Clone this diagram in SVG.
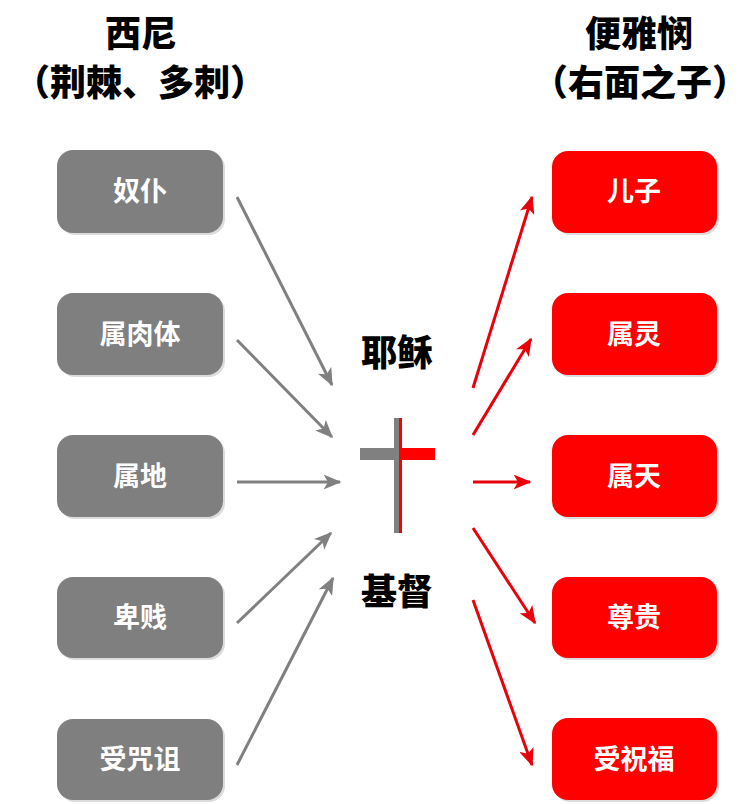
<svg xmlns="http://www.w3.org/2000/svg" width="755" height="804" viewBox="0 0 755 804">
<style>
.hd{font-family:"Noto Sans CJK SC","Noto Sans CJK TC",sans-serif;font-weight:900;font-size:36px;fill:#000;text-anchor:middle}
.nm{font-family:"Noto Sans CJK SC","Noto Sans CJK TC",sans-serif;font-weight:900;font-size:36px;fill:#000;text-anchor:middle}
.bt{font-family:"Noto Sans CJK SC",sans-serif;font-weight:700;font-size:27px;fill:#fff;text-anchor:middle}
.g{fill:#7f7f7f}
.r{fill:#ff0000}
.sh{fill:#dcdcdc}
.ga{stroke:#808080;stroke-width:3;fill:none;marker-end:url(#ag)}
.ra{stroke:#e8000b;stroke-width:3;fill:none;marker-end:url(#ar)}
</style>
<defs>
<marker id="ag" viewBox="0 0 12 10" refX="11" refY="5" markerWidth="18" markerHeight="15" markerUnits="userSpaceOnUse" orient="auto"><path d="M0,0 L12,5 L0,10 L3,5 z" fill="#808080"/></marker>
<marker id="ar" viewBox="0 0 12 10" refX="11" refY="5" markerWidth="18" markerHeight="15" markerUnits="userSpaceOnUse" orient="auto"><path d="M0,0 L12,5 L0,10 L3,5 z" fill="#e8000b"/></marker>
</defs>
<rect width="755" height="804" fill="#fff"/>
<g id="headers">
<text class="hd" x="141" y="47">西尼</text>
<text class="hd" x="140" y="96">（荆棘、多刺）</text>
<text class="hd" x="639" y="47">便雅悯</text>
<text class="hd" x="640" y="96">（右面之子）</text>
</g>
<g id="center">
<text class="nm" x="397" y="366">耶稣</text>
<text class="nm" x="397" y="605">基督</text>
<rect x="394" y="418" width="5" height="115" fill="#808080"/>
<rect x="399" y="418" width="3" height="115" fill="#ff0000"/>
<rect x="360" y="448" width="34" height="12" fill="#808080"/>
<rect x="402" y="448" width="33" height="12" fill="#ff0000"/>
</g>
<g id="n-nupu"><rect class="sh" x="59" y="152" width="166" height="83" rx="16"/><rect class="g" x="57" y="150" width="166" height="83" rx="16"/><text class="bt" x="140" y="201">奴仆</text></g>
<g id="n-rouiti"><rect class="sh" x="59" y="295" width="166" height="82" rx="16"/><rect class="g" x="57" y="293" width="166" height="82" rx="16"/><text class="bt" x="140" y="344">属肉体</text></g>
<g id="n-shudi"><rect class="sh" x="59" y="437" width="166" height="82" rx="16"/><rect class="g" x="57" y="435" width="166" height="82" rx="16"/><text class="bt" x="140" y="486">属地</text></g>
<g id="n-beijian"><rect class="sh" x="59" y="579" width="166" height="81" rx="16"/><rect class="g" x="57" y="577" width="166" height="81" rx="16"/><text class="bt" x="140" y="627">卑贱</text></g>
<g id="n-zuzhou"><rect class="sh" x="59" y="721" width="166" height="81" rx="16"/><rect class="g" x="57" y="719" width="166" height="81" rx="16"/><text class="bt" x="140" y="769">受咒诅</text></g>
<g id="n-erzi"><rect class="sh" x="554" y="153" width="165" height="82" rx="16"/><rect class="r" x="552" y="151" width="165" height="82" rx="16"/><text class="bt" x="634" y="201">儿子</text></g>
<g id="n-shuling"><rect class="sh" x="554" y="295" width="165" height="82" rx="16"/><rect class="r" x="552" y="293" width="165" height="82" rx="16"/><text class="bt" x="634" y="344">属灵</text></g>
<g id="n-shutian"><rect class="sh" x="554" y="437" width="165" height="82" rx="16"/><rect class="r" x="552" y="435" width="165" height="82" rx="16"/><text class="bt" x="634" y="486">属天</text></g>
<g id="n-zungui"><rect class="sh" x="554" y="579" width="165" height="81" rx="16"/><rect class="r" x="552" y="577" width="165" height="81" rx="16"/><text class="bt" x="634" y="627">尊贵</text></g>
<g id="n-zhufu"><rect class="sh" x="554" y="720" width="165" height="82" rx="16"/><rect class="r" x="552" y="718" width="165" height="82" rx="16"/><text class="bt" x="634" y="769">受祝福</text></g>
<g id="connectors">
<line class="ga" x1="237" y1="197" x2="332" y2="385"/>
<line class="ga" x1="237" y1="340" x2="332" y2="437"/>
<line class="ga" x1="237" y1="482" x2="340" y2="482"/>
<line class="ga" x1="237" y1="623" x2="331" y2="533"/>
<line class="ga" x1="237" y1="765" x2="333" y2="578"/>
<line class="ra" x1="473" y1="388" x2="532" y2="197"/>
<line class="ra" x1="473" y1="435" x2="531" y2="339"/>
<line class="ra" x1="473" y1="482" x2="530" y2="482"/>
<line class="ra" x1="473" y1="528" x2="535" y2="623"/>
<line class="ra" x1="473" y1="600" x2="532" y2="765"/>
</g>
</svg>
